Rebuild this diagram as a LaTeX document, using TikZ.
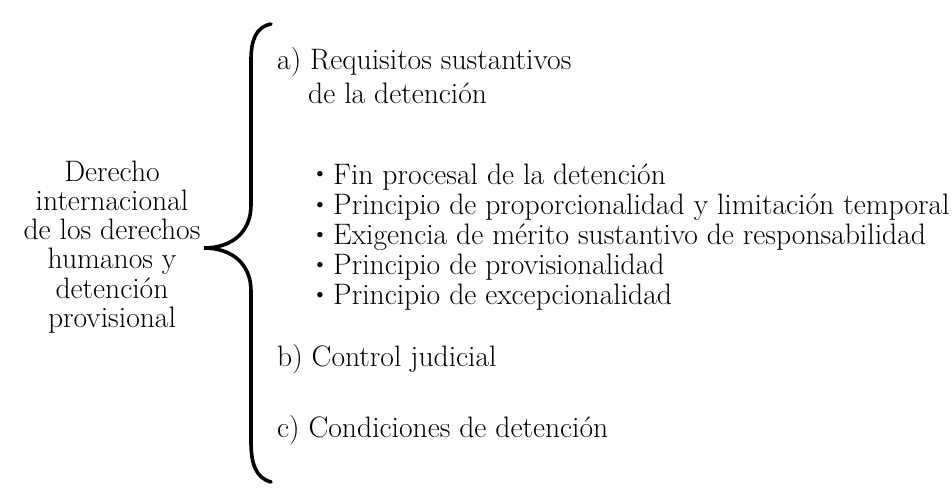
\documentclass[tikz,border=0pt]{standalone}
\usepackage{tikz}

\begin{document}
\begin{tikzpicture}[x=1pt,y=-1pt,
    every node/.style={inner sep=0pt,font=\fontsize{29.6}{30}\selectfont},
    itemtext/.style={anchor=base west},
    bulletmark/.style={anchor=base,font=\fontsize{24}{24}\selectfont}]

    \useasboundingbox (0,0) rectangle (952,489);

    %==================== Left: topic ====================
    \node[align=center,font=\fontsize{29.6}{29.2}\selectfont] (topic) at (112,247)
      {Derecho\\ internacional\\ de los derechos\\ humanos y\\ detención\\ provisional};

    %==================== Brace ====================
    \coordinate (tip) at (204,248);
    \draw[line width=3.6pt,line cap=round]
      (271,24) .. controls (256,27) and (251,40) .. (251,60)
      -- (251,205) .. controls (251,232) and (232,248) .. (tip)
      .. controls (232,248) and (251,264) .. (251,291)
      -- (251,442) .. controls (251,464) and (256,478) .. (271,482);

    %==================== Right: requirements ====================
    \node[itemtext] (reqA)  at (277,70)  {a) Requisitos sustantivos};
    \node[itemtext] (reqA2) at (308,104) {de la detención};

    % Bulleted sub-items
    \foreach \i/\txt in {1/Fin procesal de la detención,
        2/Principio de proporcionalidad y limitación temporal,
        3/Exigencia de mérito sustantivo de responsabilidad,
        4/Principio de provisionalidad,
        5/Principio de excepcionalidad} {
      \node[bulletmark] (dot\i) at (320,151+30*\i) {\textbullet};
      \node[itemtext] (sub\i) at (333,154+30*\i) {\txt};
    }

    \node[itemtext] (reqB) at (277,366) {b) Control judicial};
    \node[itemtext] (reqC) at (277,437) {c) Condiciones de detención};

  \end{tikzpicture}
\end{document}
